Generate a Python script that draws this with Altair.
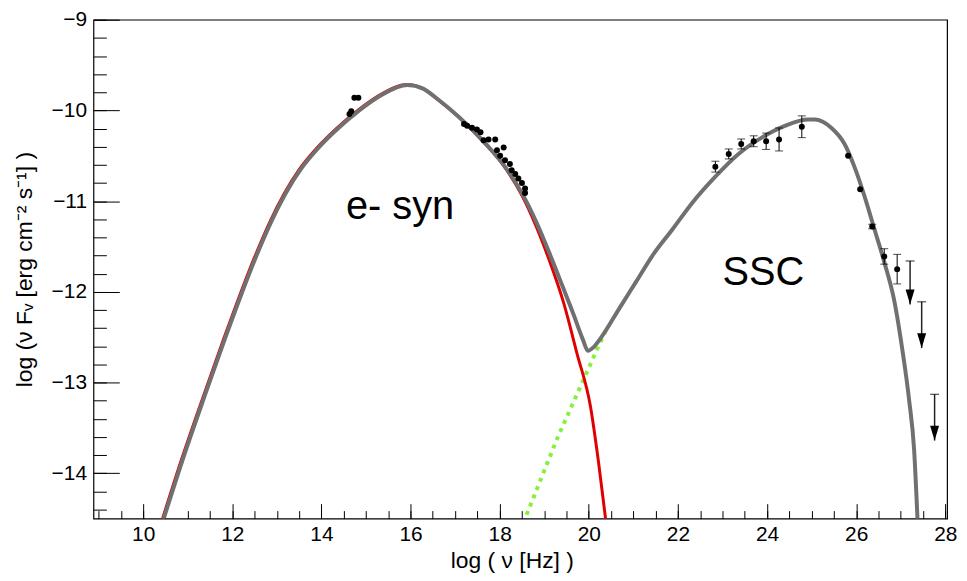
import altair as alt
import pandas as pd

# ---------------- data ----------------
# total model (grey): log nu, log nuFnu
total_x = [10.43, 10.88, 11.40, 11.84, 12.14, 12.51, 12.88, 13.18, 13.55, 13.92,
           14.37, 14.85, 15.35, 15.93, 16.28, 16.62, 17.08, 17.71, 18.09, 18.53,
           18.83, 19.13, 19.42, 19.65, 19.87, 19.98, 20.11, 20.24, 20.69, 21.06,
           21.43, 21.88, 22.32, 22.84, 23.36, 23.88, 24.40, 24.92, 25.07, 25.44,
           25.74, 25.96, 26.19, 26.41, 26.63, 26.86, 27.04, 27.19, 27.30, 27.38]
total_y = [-14.55, -13.86, -13.12, -12.51, -12.11, -11.64, -11.22, -10.93, -10.64, -10.42,
           -10.20, -10.00, -9.83, -9.72, -9.76, -9.88, -10.07, -10.38, -10.60, -10.94,
           -11.24, -11.59, -11.95, -12.24, -12.53, -12.65, -12.61, -12.53, -12.18, -11.89,
           -11.60, -11.31, -11.02, -10.73, -10.48, -10.30, -10.17, -10.10, -10.10, -10.19,
           -10.37, -10.62, -10.95, -11.31, -11.67, -12.11, -12.65, -13.20, -13.74, -14.55]

# electron synchrotron component (red)
sync_x = [10.43, 10.88, 11.40, 11.84, 12.14, 12.51, 12.88, 13.18, 13.55, 13.92,
          14.37, 14.85, 15.35, 15.93, 16.28, 16.62, 17.08, 17.71, 18.09, 18.53,
          18.83, 19.13, 19.46, 19.76, 20.06, 20.24, 20.41]
sync_y = [-14.55, -13.86, -13.12, -12.51, -12.11, -11.64, -11.22, -10.93, -10.64, -10.42,
          -10.20, -10.00, -9.83, -9.72, -9.76, -9.88, -10.07, -10.38, -10.60, -10.95,
          -11.27, -11.65, -12.13, -12.69, -13.27, -13.88, -14.55]

# SSC component (green dotted, visible part)
ssc_x = [18.53, 19.28, 20.17, 20.40]
ssc_y = [-14.55, -13.63, -12.65, -12.41]

# low-energy data points (optical + X-ray)
lo_x = [14.63, 14.67, 14.74, 14.83,
        17.20, 17.27, 17.38, 17.49, 17.57, 17.64, 17.75, 17.90, 18.09, 17.94,
        18.01, 18.12, 18.23, 18.27, 18.35, 18.42, 18.50, 18.57, 18.57]
lo_y = [-10.04, -10.01, -9.86, -9.86,
        -10.15, -10.17, -10.19, -10.21, -10.24, -10.33, -10.32, -10.32, -10.41, -10.44,
        -10.50, -10.55, -10.59, -10.66, -10.70, -10.75, -10.80, -10.86, -10.91]

# gamma-ray data points with errors
g_x = [22.84, 23.14, 23.42, 23.70, 23.98, 24.27, 24.78, 25.82, 26.09, 26.36, 26.63, 26.92]
g_y = [-10.62, -10.48, -10.37, -10.34, -10.34, -10.32, -10.18, -10.50, -10.87, -11.28, -11.61, -11.75]
g_err = [0.06, 0.055, 0.055, 0.06, 0.09, 0.127, 0.12, 0.0, 0.0, 0.025, 0.085, 0.163]

# upper limits
ul_x = [27.21, 27.47, 27.76]
ul_top = [-11.66, -12.11, -13.13]
ul_tip = [-12.14, -12.62, -13.64]

# annotations
ann_x = [14.55, 23.0]
ann_y = [-11.20, -11.92]
ann_text = ["e- syn", "SSC"]

# axis ticks
x_major = [10, 12, 14, 16, 18, 20, 22, 24, 26, 28]
x_minor = [9 + 0.5 * i for i in range(39)]
y_major = [-9, -10, -11, -12, -13, -14]
y_minor = [-9 - 0.2 * i for i in range(28)]

X_DOMAIN = [8.885, 28.04]
Y_DOMAIN = [-14.5, -9]
FONT = "Liberation Sans"

# ---------------- tables ----------------
df_total = pd.DataFrame({"x": total_x, "y": total_y})
df_sync = pd.DataFrame({"x": sync_x, "y": sync_y})
df_ssc = pd.DataFrame({"x": ssc_x, "y": ssc_y})
df_lo = pd.DataFrame({"x": lo_x, "y": lo_y})
df_g = pd.DataFrame({"x": g_x, "y": g_y, "err": g_err})
df_g["lo"] = df_g["y"] - df_g["err"]
df_g["hi"] = df_g["y"] + df_g["err"]
df_gerr = df_g[df_g["err"] > 0]
df_ul = pd.DataFrame({"x": ul_x, "top": ul_top, "tip": ul_tip})
df_ann = pd.DataFrame({"x": ann_x, "y": ann_y, "t": ann_text})

xs = alt.Scale(domain=X_DOMAIN, nice=False, zero=False, padding=0)
ys = alt.Scale(domain=Y_DOMAIN, nice=False, zero=False, padding=0)


def X(field="x", axis=None):
    return alt.X(f"{field}:Q", scale=xs, axis=axis)


def Y(field="y", axis=None):
    return alt.Y(f"{field}:Q", scale=ys, axis=axis)


ax_x_major = alt.Axis(orient="bottom", values=x_major, format="d", tickSize=15, offset=-15,
                      domain=False, grid=False, tickColor="black", tickWidth=1,
                      labelFont=FONT, labelFontSize=21, labelColor="black", labelPadding=5,
                      labelFlush=False, title="log ( ν [Hz] )", titleFont=FONT,
                      titleFontSize=23, titleFontWeight="normal", titleColor="black",
                      titlePadding=5, titleX=421)
ax_y_major = alt.Axis(orient="left", values=y_major, format="d", tickSize=26, offset=-26,
                      domain=False, grid=False, tickColor="black", tickWidth=1,
                      labelFont=FONT, labelFontSize=21, labelColor="black", labelPadding=7,
                      labelFlush=False,
                      title="log (ν F\u1D65 [erg cm\u207B\u00B2 s\u207B\u00B9] )",
                      titleFont=FONT, titleFontSize=23, titleFontWeight="normal",
                      titleColor="black", titlePadding=15)
ax_x_minor = alt.Axis(orient="bottom", values=x_minor, tickSize=8, offset=-8, domain=False,
                      grid=False, labels=False, tickColor="black", tickWidth=1, title=None)
ax_y_minor = alt.Axis(orient="left", values=y_minor, tickSize=13, offset=-13, domain=False,
                      grid=False, labels=False, tickColor="black", tickWidth=1, title=None)

ssc_line = alt.Chart(df_ssc).mark_line(color="#88f03c", strokeWidth=4, strokeDash=[4, 5],
                                       clip=True).encode(x=X(), y=Y())
sync_line = alt.Chart(df_sync).mark_line(color="#e00000", strokeWidth=3, clip=True,
                                         interpolate="monotone", xOffset=-1, yOffset=-0.5).encode(
    x=X(axis=ax_x_minor), y=Y(axis=ax_y_minor))
total_line = alt.Chart(df_total).mark_line(color="#707070", strokeWidth=4, clip=True,
                                           interpolate="monotone").encode(
    x=X(axis=ax_x_major), y=Y(axis=ax_y_major))

lo_pts = alt.Chart(df_lo).mark_point(filled=True, shape="circle", size=36, color="black",
                                     opacity=1).encode(x=X(), y=Y())

g_bars = alt.Chart(df_gerr).mark_rule(color="black", strokeWidth=1).encode(
    x=X(), y=Y("lo"), y2="hi:Q")
g_cap_lo = alt.Chart(df_gerr).mark_tick(color="black", orient="horizontal", size=8,
                                        thickness=1).encode(x=X(), y=Y("lo"))
g_cap_hi = alt.Chart(df_gerr).mark_tick(color="black", orient="horizontal", size=8,
                                        thickness=1).encode(x=X(), y=Y("hi"))
g_pts = alt.Chart(df_g).mark_point(filled=True, shape="circle", size=36, color="black",
                                   opacity=1).encode(x=X(), y=Y())

ul_rule = alt.Chart(df_ul).mark_rule(color="#222222", strokeWidth=1.5).encode(
    x=X(), y=Y("top"), y2="tip:Q")
ul_cap = alt.Chart(df_ul).mark_tick(color="black", orient="horizontal", size=9,
                                    thickness=1.2).encode(x=X(), y=Y("top"))
ul_head = alt.Chart(df_ul).mark_point(filled=True, shape="M-0.6,-2L0.6,-2L0,0Z", size=225,
                                      color="black", opacity=1).encode(x=X(), y=Y("tip"))

ann = alt.Chart(df_ann).mark_text(align="left", baseline="alphabetic", font=FONT,
                                  fontSize=40, color="black").encode(x=X(), y=Y(), text="t:N")

chart = alt.layer(
    ssc_line, sync_line, total_line, lo_pts, g_bars, g_cap_lo, g_cap_hi, g_pts,
    ul_rule, ul_cap, ul_head, ann
).resolve_axis(x="independent", y="independent").properties(
    width=859, height=502,
    autosize=alt.AutoSizeParams(type="none"),
    padding={"left": 86, "top": 10, "right": 12, "bottom": 55},
    background="white",
).configure_view(stroke="black", strokeWidth=1.2)

chart.save("out.html", embed_options={"renderer": "svg", "actions": False})
